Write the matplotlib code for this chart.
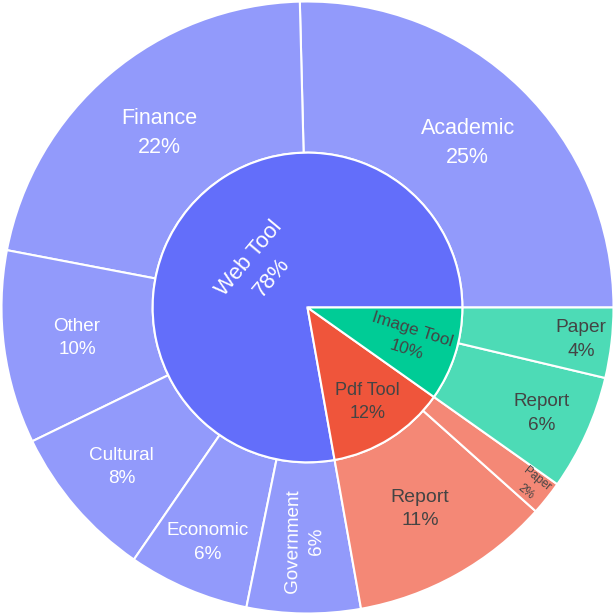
import numpy as np
import matplotlib
matplotlib.use("Agg")
import matplotlib.pyplot as plt

# data (share of total, in percent)
parent_labels = ["Web Tool", "Pdf Tool", "Image Tool"]
web_labels = ["Academic", "Finance", "Other", "Cultural", "Economic", "Government"]
web_values = [25.4, 21.6, 10.2, 8.2, 6.4, 6.0]
pdf_labels = ["Report", "Paper"]
pdf_values = [10.6, 1.8]
image_labels = ["Report", "Paper"]
image_values = [6.1, 3.7]

parent_colors = ["#636EFA", "#EF553B", "#00CC96"]
child_colors = ["#929AFB", "#F48876", "#4DDBB6"]
text_colors = ["white", "#444444", "#444444"]

plt.rcParams['font.family'] = ['Liberation Sans', 'DejaVu Sans']

children = [(web_labels, web_values), (pdf_labels, pdf_values), (image_labels, image_values)]
parent_values = [sum(v) for _, v in children]
outer_labels, outer_values, outer_colors, outer_tc = [], [], [], []
for i, (labs, vals) in enumerate(children):
    outer_labels += labs
    outer_values += vals
    outer_colors += [child_colors[i]] * len(vals)
    outer_tc += [text_colors[i]] * len(vals)
total = sum(outer_values)

# label layout: radius (fraction of outer radius), orientation, font size
outer_r = [0.75, 0.75, 0.76, 0.80, 0.834, 0.765, 0.754, 0.935, 0.84, 0.90]
outer_rot = ["h", "h", "h", "h", "h", "radial", "h", "radial", "h", "h"]
outer_fs = [15.5, 15.5, 13.6, 13.6, 13.6, 13.6, 14.0, 8.5, 13.6, 13.8]
inner_r = [0.2, 0.365, 0.35]
inner_rot = ["tangential", "h", "radial"]
inner_fs = [15.9, 13.0, 12.4]

r_in = 0.506

fig = plt.figure(figsize=(6.15, 6.15), dpi=100)
ax = fig.add_axes([0, 0, 1, 1])

wp = dict(edgecolor="white", linewidth=1.5)
outer_w, _ = ax.pie(outer_values, radius=1, colors=outer_colors, startangle=0,
                    counterclock=True, wedgeprops=dict(width=1 - r_in, **wp))
inner_w, _ = ax.pie(parent_values, radius=r_in, colors=parent_colors, startangle=0,
                    counterclock=True, wedgeprops=dict(width=r_in, **wp))


def rotation_for(mode, mid):
    if mode == "h":
        return 0
    a = mid if mode == "radial" else mid - 90
    a = (a + 180) % 360 - 180
    if a > 90:
        a -= 180
    elif a < -90:
        a += 180
    return a


def put_labels(wedges, labels, values, radii, modes, sizes, colors):
    for w, lab, v, r, m, fs, c in zip(wedges, labels, values, radii, modes, sizes, colors):
        mid = (w.theta1 + w.theta2) / 2
        x = r * np.cos(np.radians(mid))
        y = r * np.sin(np.radians(mid))
        ax.text(x, y, "%s\n%d%%" % (lab, round(v / total * 100)), ha="center", va="center",
                rotation=rotation_for(m, mid), rotation_mode="anchor", fontsize=fs,
                color=c, linespacing=1.5)


put_labels(outer_w, outer_labels, outer_values, outer_r, outer_rot, outer_fs, outer_tc)
put_labels(inner_w, parent_labels, parent_values, inner_r, inner_rot, inner_fs, text_colors)

lim = 307.5 / 306
ax.set_xlim(-lim, lim)
ax.set_ylim(-lim, lim)
ax.set_aspect("equal")
ax.axis("off")

fig.savefig("out.png", dpi=100, facecolor="white")
